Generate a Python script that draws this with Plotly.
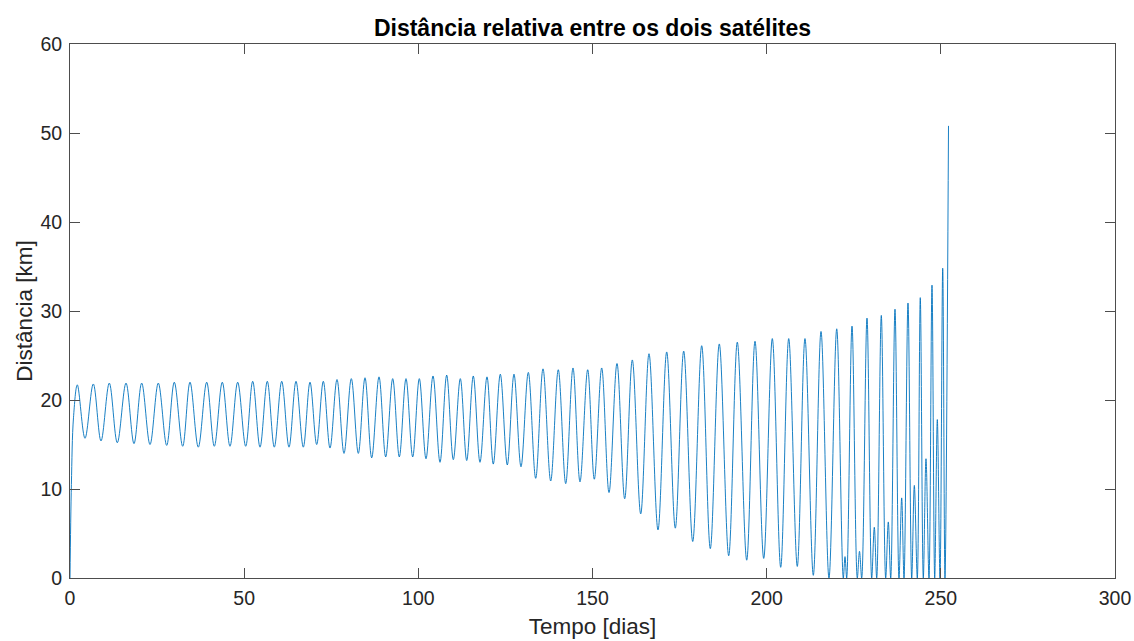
import plotly.graph_objects as go

# ---- data (days, km) ----
start_t = [0.0, 0.4, 1.0]
start_d = [0.0, 10.5, 18.0]

peak_t = [2.10, 6.69, 11.28, 16.08, 20.58, 25.35, 29.94, 34.45, 39.24, 43.72,
          48.14, 52.45, 56.64, 60.78, 64.88, 68.90, 72.72, 76.65, 80.76, 84.69,
          88.71, 92.64, 96.46, 100.28, 104.21, 108.14, 112.05, 115.78, 119.71, 123.53,
          127.46, 131.57, 135.79, 140.18, 144.40, 148.62, 152.64, 157.03, 161.43, 166.22,
          171.30, 176.18, 181.35, 186.40, 191.57, 196.65, 201.62, 206.33, 211.00, 215.60,
          220.11, 224.50, 228.80, 232.91, 236.84, 240.57, 244.10, 247.46, 250.54, 252.20]
peak_d = [21.7, 21.8, 21.9, 21.9, 21.9, 21.9, 22.0, 22.0, 22.0, 22.0,
          22.0, 22.1, 22.1, 22.1, 22.1, 22.0, 22.1, 22.3, 22.4, 22.5,
          22.6, 22.4, 22.4, 22.4, 22.7, 22.8, 22.4, 22.7, 22.6, 22.9,
          22.9, 23.1, 23.5, 23.4, 23.6, 23.4, 23.6, 24.1, 24.5, 25.2,
          25.4, 25.5, 26.1, 26.3, 26.5, 26.6, 26.9, 26.9, 26.9, 27.7,
          28.0, 28.3, 29.2, 29.5, 30.2, 30.9, 31.5, 32.9, 34.8, 50.8]

trough_t = [4.31, 8.90, 13.58, 18.37, 22.97, 27.76, 32.35, 36.83, 41.43, 45.93,
            50.44, 54.55, 58.65, 62.87, 66.98, 70.82, 74.64, 78.66, 82.77, 86.61,
            90.63, 94.54, 98.38, 102.20, 106.22, 110.04, 113.89, 117.70, 121.52, 125.54,
            129.47, 133.69, 138.00, 142.31, 146.41, 150.52, 154.74, 159.24, 163.84, 168.80,
            173.77, 178.77, 183.82, 189.10, 194.27, 199.15, 204.03, 208.79, 213.39, 217.89]
trough_d = [15.7, 15.4, 15.2, 15.1, 15.0, 14.9, 14.8, 14.7, 14.8, 14.8,
            14.8, 14.7, 14.7, 14.7, 14.7, 15.0, 14.6, 14.0, 14.0, 13.5,
            13.6, 13.6, 13.6, 13.4, 13.0, 13.3, 13.2, 13.0, 12.8, 12.7,
            12.5, 11.2, 10.9, 10.6, 10.8, 11.1, 9.6, 8.9, 7.2, 5.4,
            5.6, 4.1, 3.3, 2.5, 2.0, 2.2, 1.2, 1.3, 0.3, 0.0]

# late double-dip troughs: two close approaches with a small bump between
dip_t = [222.00, 222.97, 226.02, 227.28, 230.15, 231.59, 234.17, 235.61, 237.99,
         239.43, 241.64, 243.24, 244.97, 246.60, 248.24, 249.76, 251.19]
dip_d = [0.0] * len(dip_t)
bump_t = [222.49, 226.65, 230.90, 234.92, 238.76, 242.39, 245.74, 248.99]
bump_d = [2.4, 3.0, 5.7, 6.3, 9.0, 10.4, 13.4, 17.8]

x_ticks = [0, 50, 100, 150, 200, 250, 300]
y_ticks = [0, 10, 20, 30, 40, 50, 60]

pts = sorted(zip(start_t + peak_t + trough_t + dip_t + bump_t,
                 start_d + peak_d + trough_d + dip_d + bump_d))
t = [p[0] for p in pts]
d = [p[1] for p in pts]

FONT = "Liberation Sans, Arial, Helvetica, sans-serif"
AX = "#4d4d4d"

fig = go.Figure(go.Scatter(x=t, y=d, mode="lines",
                           line=dict(color="#0072BD", width=0.9, shape="spline"),
                           showlegend=False, hoverinfo="skip"))

axis_common = dict(showline=True, linecolor=AX, linewidth=1, mirror="ticks",
                   ticks="inside", ticklen=10, tickcolor=AX, tickwidth=1,
                   showgrid=False, zeroline=False, automargin=False,
                   tickfont=dict(family=FONT, size=19.5, color="#262626"))

fig.update_xaxes(range=[0, 300], tickvals=x_ticks, **axis_common, ticklabelstandoff=3,
                 title=dict(text="Tempo [dias]", font=dict(family=FONT, size=22.5, color="#262626"),
                            standoff=9))
fig.update_yaxes(range=[0, 60], tickvals=y_ticks, **axis_common, ticklabelstandoff=3,
                 title=dict(text="Distância [km]", font=dict(family=FONT, size=22.5, color="#262626"),
                            standoff=1))

fig.update_layout(
    width=1134, height=641,
    margin=dict(l=70, r=19, t=44, b=63),
    paper_bgcolor="white", plot_bgcolor="white",
    title=dict(text="Distância relativa entre os dois satélites",
               font=dict(family=FONT, size=23, color="black", weight="bold"),
               x=0.5, xref="paper", xanchor="center",
               y=1 - 28 / 641, yref="container", yanchor="middle"),
)

fig.write_html("out.html")
